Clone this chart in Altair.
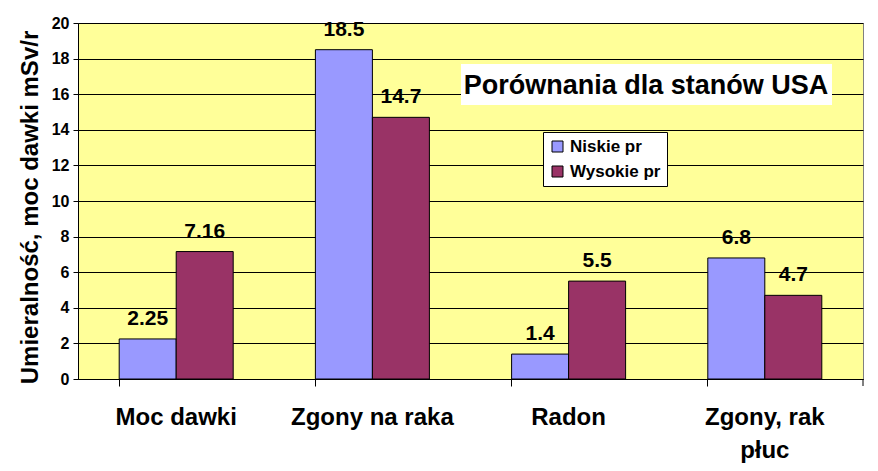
import altair as alt
import pandas as pd

categories = ["Moc dawki", "Zgony na raka", "Radon", "Zgony, rak płuc"]
series_names = ["Niskie pr", "Wysokie pr"]
niskie = [2.25, 18.5, 1.4, 6.8]
wysokie = [7.16, 14.7, 5.5, 4.7]
y_ticks = list(range(0, 21, 2))
colors = ["#9999FF", "#993366"]
chart_title = "Porównania dla stanów USA"
y_title = "Umieralność, moc dawki mSv/r"

rows = []
for c, a, b in zip(categories, niskie, wysokie):
    rows.append({"cat": c, "series": series_names[0], "value": a, "label": str(a)})
    rows.append({"cat": c, "series": series_names[1], "value": b, "label": str(b)})
df = pd.DataFrame(rows)

FONT = "Liberation Sans, Arial, sans-serif"
W, H = 785, 356

x_enc = alt.X("cat:N", sort=categories,
              scale=alt.Scale(paddingInner=0.419, paddingOuter=0.21),
              axis=alt.Axis(title=None, bandPosition=0, labelAngle=0,
                            labelFont=FONT, labelFontSize=24, labelFontWeight="bold",
                            labelColor="black", labelPadding=19, labelLineHeight=33,
                            labelBaseline="top",
                            labelExpr="datum.value == 'Zgony, rak płuc' ? ['Zgony, rak', 'płuc'] : datum.value",
                            tickSize=7, tickColor="black", domainColor="black",
                            grid=False))
y_enc = alt.Y("value:Q",
              scale=alt.Scale(domain=[0, 20], nice=False),
              axis=alt.Axis(title=y_title, values=y_ticks, tickCount=11, labelOverlap=False,
                            tickSize=5,
                            tickColor="black", domainColor="black",
                            gridColor="black", gridWidth=1, gridOpacity=1,
                            labelFont=FONT, labelFontSize=16, labelFontWeight="bold",
                            labelColor="black", labelPadding=4,
                            titleFont=FONT, titleFontSize=24, titleFontWeight="bold",
                            titleColor="black", titlePadding=9, titleY=184))
xoff = alt.XOffset("series:N", sort=series_names, scale=alt.Scale(paddingInner=0, paddingOuter=0))

bars = alt.Chart(df).mark_bar(stroke="black", strokeWidth=1).encode(
    x=x_enc, y=y_enc, xOffset=xoff,
    color=alt.Color("series:N", sort=series_names,
                    scale=alt.Scale(domain=series_names, range=colors),
                    legend=alt.Legend(title=None, orient="none", legendX=465, legendY=109,
                                      fillColor="white", strokeColor="black", padding=6,
                                      symbolType="square", symbolSize=121,
                                      symbolStrokeColor="black", symbolStrokeWidth=1,
                                      labelFont=FONT, labelFontSize=17, labelFontWeight="bold",
                                      labelColor="black", rowPadding=7, labelOffset=4)),
)

labels = alt.Chart(df).mark_text(font=FONT, fontSize=21, fontWeight="bold", color="black",
                                 baseline="alphabetic", dy=-14).encode(
    x=x_enc, y=y_enc, xOffset=xoff, text="label:N")

one = pd.DataFrame({"t": [chart_title]})
title_box = alt.Chart(one).mark_rect(fill="white").encode(
    x=alt.value(383), x2=alt.value(754), y=alt.value(41), y2=alt.value(82))
title_text = alt.Chart(one).mark_text(font=FONT, fontSize=27, fontWeight="bold", color="black",
                                      align="center", baseline="alphabetic").encode(
    x=alt.value(568), y=alt.value(71), text="t:N")
right_tick = alt.Chart(one).mark_rule(color="black").encode(
    x=alt.value(W), y=alt.value(H), y2=alt.value(H + 7))

chart = alt.layer(bars, labels, title_box, title_text, right_tick).properties(
    width=W, height=H,
    autosize=alt.AutoSizeParams(type="none"),
    padding={"left": 78, "top": 23, "right": 15, "bottom": 92},
    background="white",
).configure_view(fill="#FFFF99", stroke="#808080", strokeWidth=1)

chart.save("out.html", embed_options={"renderer": "svg", "actions": False})
